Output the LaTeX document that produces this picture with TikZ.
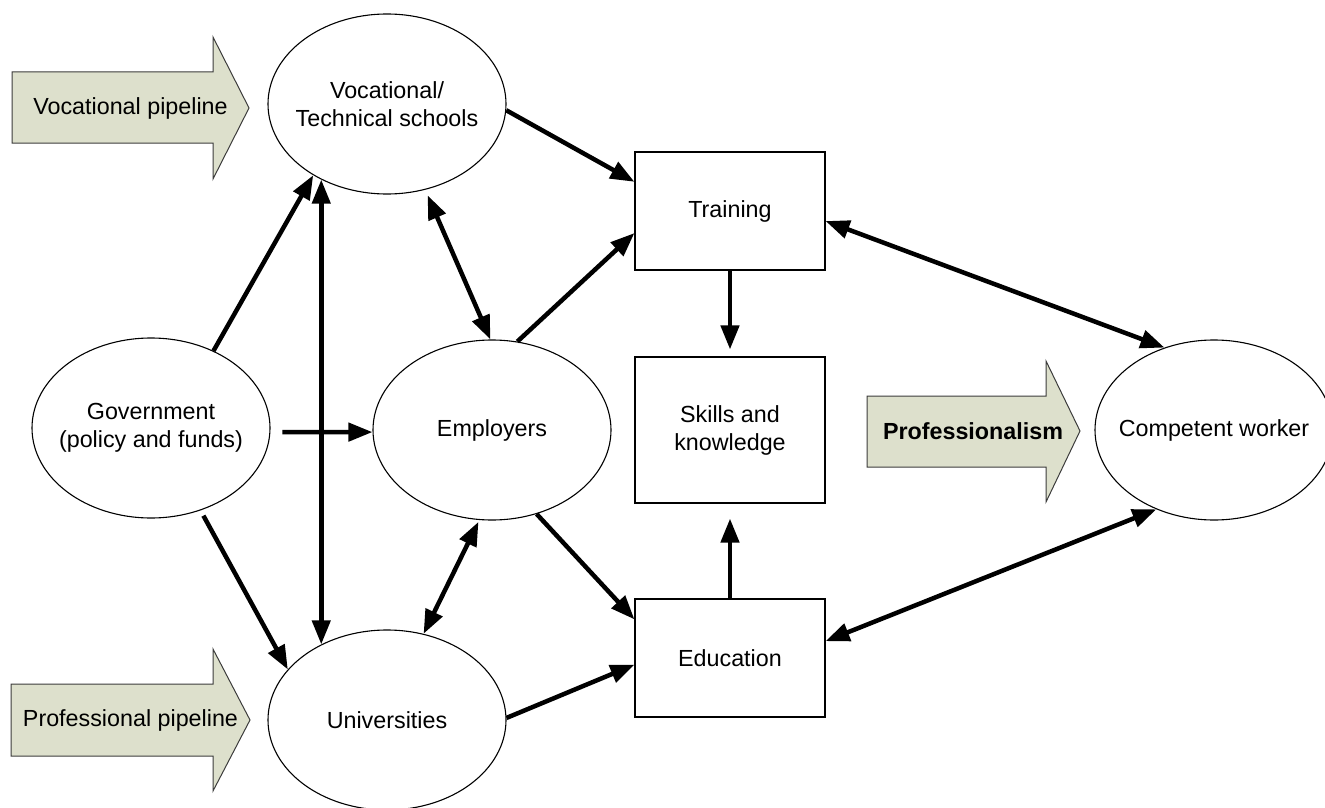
\documentclass[tikz,border=0pt]{standalone}
\usepackage{fontspec}
\setmainfont{Liberation Sans}
\usetikzlibrary{arrows.meta,shapes.geometric}
\definecolor{pipefill}{RGB}{221,224,204}
\definecolor{pipeline}{RGB}{60,60,60}
\begin{document}
\begin{tikzpicture}[x=1pt,y=-1pt,
  every node/.style={font=\fontsize{23.3}{28}\selectfont},
  oval/.style={ellipse, draw, line width=1.1pt, fill=white, minimum width=238pt, minimum height=180pt, inner sep=0pt},
  box/.style={rectangle, draw, line width=1.1pt, fill=white, minimum width=190pt, inner sep=0pt, align=center},
  txt/.style={align=center, inner sep=0pt},
  conn/.style={line width=4.5pt, -{Triangle[length=24pt,width=18pt]}},
  biconn/.style={line width=4.5pt, {Triangle[length=24pt,width=18pt]}-{Triangle[length=24pt,width=18pt]}},
  pipe/.style={fill=pipefill, draw=pipeline, line width=1pt, line join=miter}
]
\useasboundingbox (0,0) rectangle (1325,808);
\clip (0,0) rectangle (1325,808);

% block arrows
\draw[pipe] (12,72) -- (213,72) -- (213,37) -- (249,108) -- (213,179) -- (213,143) -- (12,143) -- cycle;
\node[txt] (vocpipe) at (130.5,108) {Vocational pipeline};
\draw[pipe] (11,684) -- (213,684) -- (213,649) -- (250,720) -- (213,791) -- (213,756) -- (11,756) -- cycle;
\node[txt] (propipe) at (130.5,720) {Professional pipeline};
\draw[pipe] (867,396) -- (1046,396) -- (1046,361) -- (1080,431) -- (1046,502) -- (1046,467) -- (867,467) -- cycle;
\node[txt, font=\fontsize{23.3}{28}\selectfont\bfseries] (prof) at (973,431) {Professionalism};

% ellipses
\node[oval] (voc) at (387,104) {};
\node[txt] (voct) at (voc.center) {Vocational/\\Technical schools};
\node[oval] (gov) at (151,428) {};
\node[txt] (govt) at (gov.center) {Government\\(policy and funds)};
\node[oval] (emp) at (492,430) {};
\node[txt] (empt) at (emp.center) {Employers};
\node[oval] (uni) at (387,720) {};
\node[txt] (unit) at (uni.center) {Universities};
\node[oval] (comp) at (1214,430) {};
\node[txt] (compt) at (comp.center) {Competent worker};

% boxes
\node[box, minimum height=118pt] (training) at (730,211) {Training};
\node[box, minimum height=146pt] (skills) at (730,430) {Skills and\\knowledge};
\node[box, minimum height=118pt] (edu) at (730,658) {Education};

% connectors
\draw[conn] (voc.-3) -- (training.163);
\draw[conn] (gov.51) -- (voc.-136);
\draw[biconn] (voc.-131.4) -- (uni.131.4);
\draw[conn] ([xshift=12pt]gov.-2) -- (emp.181);
\draw[biconn, shorten <=6pt] (voc.-66) -- (emp.91);
\draw[conn] (emp.74) -- (training.193);
\draw[conn, shorten <=6pt] (gov.-59.5) -- (uni.153);
\draw[biconn, shorten <=2pt] (emp.-98) -- (uni.67);
\draw[conn] (emp.-62) -- (edu.158);
\draw[conn] (uni.1) -- (edu.184);
\draw[conn, shorten >=7pt] (training.south) -- (skills.north);
\draw[conn, shorten >=15pt] (edu.north) -- (skills.south);
\draw[biconn] (training.-6.7) -- (comp.121);
\draw[biconn] (edu.10) -- (comp.-126);
\end{tikzpicture}
\end{document}
